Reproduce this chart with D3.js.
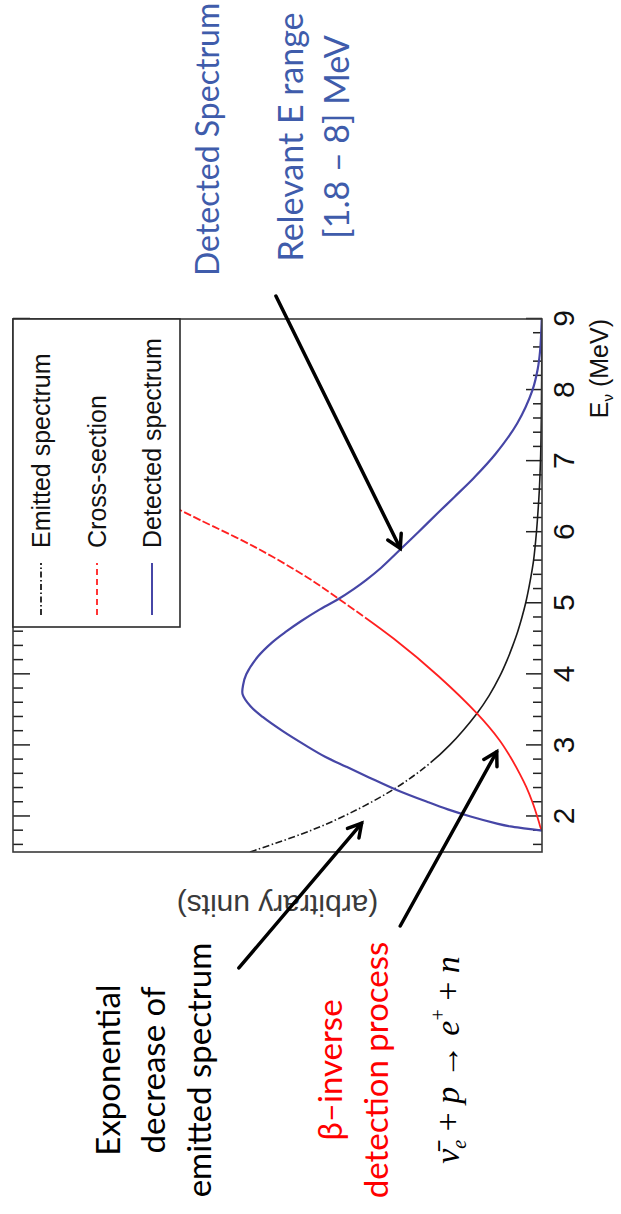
<!DOCTYPE html>
<html>
<head>
<meta charset="utf-8">
<script src="https://cdn.jsdelivr.net/npm/d3@7"></script>
<style>
  body { margin: 0; background: #fff; }
  svg { display: block; }
</style>
</head>
<body>
<svg id="chart" width="621" height="1214"></svg>
<script>
// Reactor antineutrino spectra, arbitrary units, versus neutrino energy (MeV)
const emittedEnergy = [1.5, 1.8, 2.05, 2.38, 2.7, 3.0, 3.45, 3.7, 3.97, 4.2, 4.39, 4.6, 4.8, 5.0, 5.33, 5.6, 6.0, 6.3, 6.6, 7.1, 7.6, 8.2, 9.0];
const emittedValue  = [0.552, 0.438, 0.362, 0.281, 0.22, 0.175, 0.123, 0.1, 0.08, 0.066, 0.056, 0.046, 0.038, 0.031, 0.022, 0.016, 0.0105, 0.0075, 0.005, 0.0025, 0.0013, 0.0006, 0.0002];

const crossEnergy = [1.8, 1.85, 1.9, 2.0, 2.2, 2.42, 2.6, 2.84, 3.08, 3.45, 3.97, 4.5, 5.05, 5.37, 5.8, 6.17, 6.31, 6.8, 7.3];
const crossValue  = [0, 0.003, 0.005, 0.009, 0.018, 0.03, 0.042, 0.06, 0.081, 0.123, 0.195, 0.28, 0.382, 0.445, 0.545, 0.646, 0.684, 0.82, 0.96];

const detectedEnergy = [1.8, 1.83, 1.86, 1.9, 2.0, 2.1, 2.2, 2.38, 2.55, 2.7, 2.84, 3.0, 3.2, 3.4, 3.55, 3.72, 3.85, 4.0, 4.25, 4.45, 4.6, 4.75, 4.9, 5.05, 5.2, 5.33, 5.5, 5.77, 6.0, 6.27, 6.5, 6.77, 7.1, 7.53, 8.0, 8.3, 8.56, 9.0];
const detectedValue  = [0, 0.03, 0.06, 0.085, 0.135, 0.178, 0.215, 0.277, 0.327, 0.37, 0.41, 0.447, 0.49, 0.528, 0.551, 0.566, 0.565, 0.559, 0.537, 0.51, 0.484, 0.455, 0.423, 0.387, 0.356, 0.332, 0.304, 0.266, 0.234, 0.197, 0.165, 0.128, 0.088, 0.047, 0.018, 0.008, 0.0035, 0.0005];

const majorTicks = [2, 3, 4, 5, 6, 7, 8, 9];
const minorTicks = [1.6, 1.8, 2.2, 2.4, 2.6, 2.8, 3.2, 3.4, 3.6, 3.8, 4.2, 4.4, 4.6, 4.8,
                    5.2, 5.4, 5.6, 5.8, 6.2, 6.4, 6.6, 6.8, 7.2, 7.4, 7.6, 7.8, 8.2, 8.4, 8.6, 8.8];

const legendLabels = ["Emitted spectrum", "Cross-section", "Detected spectrum"];
const seriesColors = ["#1a1a1a", "#ff2020", "#4646a6"];
const seriesWidth  = [1.6, 1.8, 2.2];

// Callout arrows, tail and head given in (energy, value) coordinates
const arrowFrom = [[9.324, 0.503], [-0.132, 0.573], [0.459, 0.268]];
const arrowTo   = [[5.773, 0.268], [1.904, 0.341], [2.911, 0.0856]];

const svg = d3.select("#chart");
svg.append("rect").attr("width", 621).attr("height", 1214).attr("fill", "#fff");

const W = 533, H = 529;
const x = d3.scaleLinear().domain([1.5, 9]).range([0, W]);
const y = d3.scaleLinear().domain([0, 1]).range([H, 0]);

const chartFont = "'Liberation Sans', Arial, Helvetica, sans-serif";
const noteFont = "Lato, 'Open Sans', 'Noto Sans', sans-serif";

// The frame is laid out as an ordinary plot and turned a quarter turn,
// so the energy axis runs up the right-hand side of the page.
const g = svg.append("g").attr("transform", "translate(13,852) rotate(-90)");

g.append("clipPath").attr("id", "plotClip")
  .append("rect").attr("width", W).attr("height", H);

// Energy axis ticks (bottom, with labels) and mirrored ticks on the top edge
function styleTicks(sel) {
  sel.select(".domain").remove();
  sel.selectAll("line").attr("stroke", "#222").attr("stroke-width", 1.5);
}
const bottomMajor = g.append("g").attr("transform", `translate(0,${H})`)
  .call(d3.axisBottom(x).tickValues(majorTicks).tickSizeInner(-16).tickSizeOuter(0).tickPadding(0).tickFormat(d3.format("d")));
styleTicks(bottomMajor);
bottomMajor.selectAll("text")
  .attr("y", 32).attr("dy", null)
  .attr("font-size", 30).attr("font-family", chartFont).attr("fill", "#111");

const bottomMinor = g.append("g").attr("transform", `translate(0,${H})`)
  .call(d3.axisBottom(x).tickValues(minorTicks).tickSizeInner(-9).tickSizeOuter(0).tickFormat(""));
styleTicks(bottomMinor);

const topMajor = g.append("g")
  .call(d3.axisTop(x).tickValues(majorTicks).tickSizeInner(-17).tickSizeOuter(0).tickFormat(""));
styleTicks(topMajor);
const topMinor = g.append("g")
  .call(d3.axisTop(x).tickValues(minorTicks).tickSizeInner(-10).tickSizeOuter(0).tickFormat(""));
styleTicks(topMinor);

// Curves
const line = d3.line()
  .x(d => x(d[0]))
  .y(d => y(d[1]))
  .curve(d3.curveCatmullRom.alpha(0.5));

const series = [
  d3.zip(emittedEnergy, emittedValue),
  d3.zip(crossEnergy, crossValue),
  d3.zip(detectedEnergy, detectedValue)
];

// Length along a path up to the point whose energy reaches e
function lengthAtEnergy(node, e) {
  const target = x(e);
  let lo = 0, hi = node.getTotalLength();
  for (let k = 0; k < 40; k++) {
    const mid = (lo + hi) / 2;
    if (node.getPointAtLength(mid).x < target) lo = mid; else hi = mid;
  }
  return lo;
}
// Dash list: patterned before `split`, solid after (or the reverse)
function mixedDash(total, split, pattern, patternFirst) {
  const out = [];
  if (patternFirst) {
    let run = 0;
    while (run < split) { pattern.forEach(v => out.push(v)); run += d3.sum(pattern); }
    out.push(total + 10, 0);
  } else {
    out.push(split, pattern[pattern.length - 1]);
    let run = split;
    while (run < total) { pattern.forEach(v => out.push(v)); run += d3.sum(pattern); }
  }
  return out.join(",");
}

const curves = g.append("g").attr("clip-path", "url(#plotClip)");
const curvePaths = series.map((pts, i) =>
  curves.append("path")
    .attr("d", line(pts))
    .attr("fill", "none")
    .attr("stroke", seriesColors[i])
    .attr("stroke-width", seriesWidth[i])
    .attr("stroke-linecap", "butt")
);
// emitted: dash-dot on the slow upper part, dense (solid-looking) near the axis
{
  const n = curvePaths[0].node();
  curvePaths[0].attr("stroke-dasharray", mixedDash(n.getTotalLength(), lengthAtEnergy(n, 2.7), [7, 2.5, 1.5, 2.5], true));
}
// cross-section: solid-looking low part, open dashes higher up
{
  const n = curvePaths[1].node();
  curvePaths[1].attr("stroke-dasharray", mixedDash(n.getTotalLength(), lengthAtEnergy(n, 4.8), [8, 2.5], false));
}

// Frame
g.append("rect").attr("width", W).attr("height", H)
  .attr("fill", "none").attr("stroke", "#3a3a3a").attr("stroke-width", 1.6);

// Legend box in the high-energy corner
const legend = g.append("g").attr("transform", "translate(225,0)");
legend.append("rect").attr("width", W - 225).attr("height", 167)
  .attr("fill", "#fff").attr("stroke", "#2a2a2a").attr("stroke-width", 1.6);
const legendRows = [28, 84, 139];
legendLabels.forEach((label, i) => {
  legend.append("line")
    .attr("x1", 12).attr("x2", 64)
    .attr("y1", legendRows[i]).attr("y2", legendRows[i])
    .attr("stroke", seriesColors[i])
    .attr("stroke-width", i === 2 ? 2 : 1.8)
    .attr("stroke-dasharray", i === 0 ? "6,2.5,1.5,2.5" : (i === 1 ? "6,4" : null));
  legend.append("text")
    .attr("x", 79).attr("y", legendRows[i] + 9)
    .attr("font-family", chartFont).attr("font-size", 25).attr("fill", "#111")
    .text(label);
});

// Axis titles
const xTitle = g.append("text")
  .attr("x", W).attr("y", 595)
  .attr("text-anchor", "end")
  .attr("font-family", chartFont).attr("font-size", 25).attr("fill", "#111");
xTitle.append("tspan").text("E");
xTitle.append("tspan").attr("font-size", 15).attr("dy", 5).text("\u03BD");
xTitle.append("tspan").attr("dy", -5).text(" (MeV)");

g.append("text")
  .attr("transform", `translate(-43,${H / 2}) rotate(-90)`)
  .attr("text-anchor", "middle")
  .attr("font-family", chartFont).attr("font-size", 30).attr("fill", "#3a3a3a")
  .text("(arbitrary units)");

// Callout arrows
const arrows = g.append("g");
arrowFrom.forEach((from, i) => {
  const to = arrowTo[i];
  const x1 = x(from[0]), y1 = y(from[1]);
  const x2 = x(to[0]), y2 = y(to[1]);
  const ang = Math.atan2(y1 - y2, x1 - x2);
  const len = 15, spread = Math.PI / 6;
  arrows.append("line")
    .attr("x1", x1).attr("y1", y1).attr("x2", x2).attr("y2", y2)
    .attr("stroke", "#000").attr("stroke-width", 3.5).attr("stroke-linecap", "round");
  arrows.append("path")
    .attr("d", `M${x2 + len * Math.cos(ang - spread)},${y2 + len * Math.sin(ang - spread)}L${x2},${y2}L${x2 + len * Math.cos(ang + spread)},${y2 + len * Math.sin(ang + spread)}`)
    .attr("fill", "none").attr("stroke", "#000").attr("stroke-width", 3.5)
    .attr("stroke-linecap", "round").attr("stroke-linejoin", "miter");
});

// Side notes, set vertically reading upwards
function note(px, py, str, color, anchor, size, family) {
  return svg.append("text")
    .attr("transform", `translate(${px},${py}) rotate(-90)`)
    .attr("text-anchor", anchor)
    .attr("font-family", family || noteFont)
    .attr("font-size", size || 34)
    .attr("fill", color)
    .text(str);
}

const blueNote = "#3f5cab";
note(219, 276, "Detected Spectrum", blueNote, "start", 32);
note(303, 137, "Relevant E range", blueNote, "middle");
note(349, 137, "[1.8 \u2013 8] MeV", blueNote, "middle");

note(120, 1070, "Exponential", "#000", "middle", 33);
note(165, 1070, "decrease of", "#000", "middle", 33);
note(211, 1070, "emitted spectrum", "#000", "middle", 33);

note(342, 1070, "\u03B2\u2013inverse", "#ff0000", "middle", 33);
note(388, 1070, "detection process", "#ff0000", "middle", 33);

// Inverse beta decay reaction
const eq = svg.append("text")
  .attr("transform", "translate(459,1060) rotate(-90)")
  .attr("text-anchor", "middle")
  .attr("font-family", "'Liberation Serif', 'Times New Roman', serif")
  .attr("font-size", 34).attr("fill", "#000");
eq.append("tspan").attr("font-style", "italic").text("\u03BD\u0304");
eq.append("tspan").attr("font-style", "italic").attr("font-size", 20).attr("dy", 7).text("e");
eq.append("tspan").attr("dy", -7).text(" + ");
eq.append("tspan").attr("font-style", "italic").text("p");
eq.append("tspan").text(" \u2192 ");
eq.append("tspan").attr("font-style", "italic").text("e");
eq.append("tspan").attr("font-size", 20).attr("dy", -14).text("+");
eq.append("tspan").attr("dy", 14).text(" + ");
eq.append("tspan").attr("font-style", "italic").text("n");
</script>
</body>
</html>
